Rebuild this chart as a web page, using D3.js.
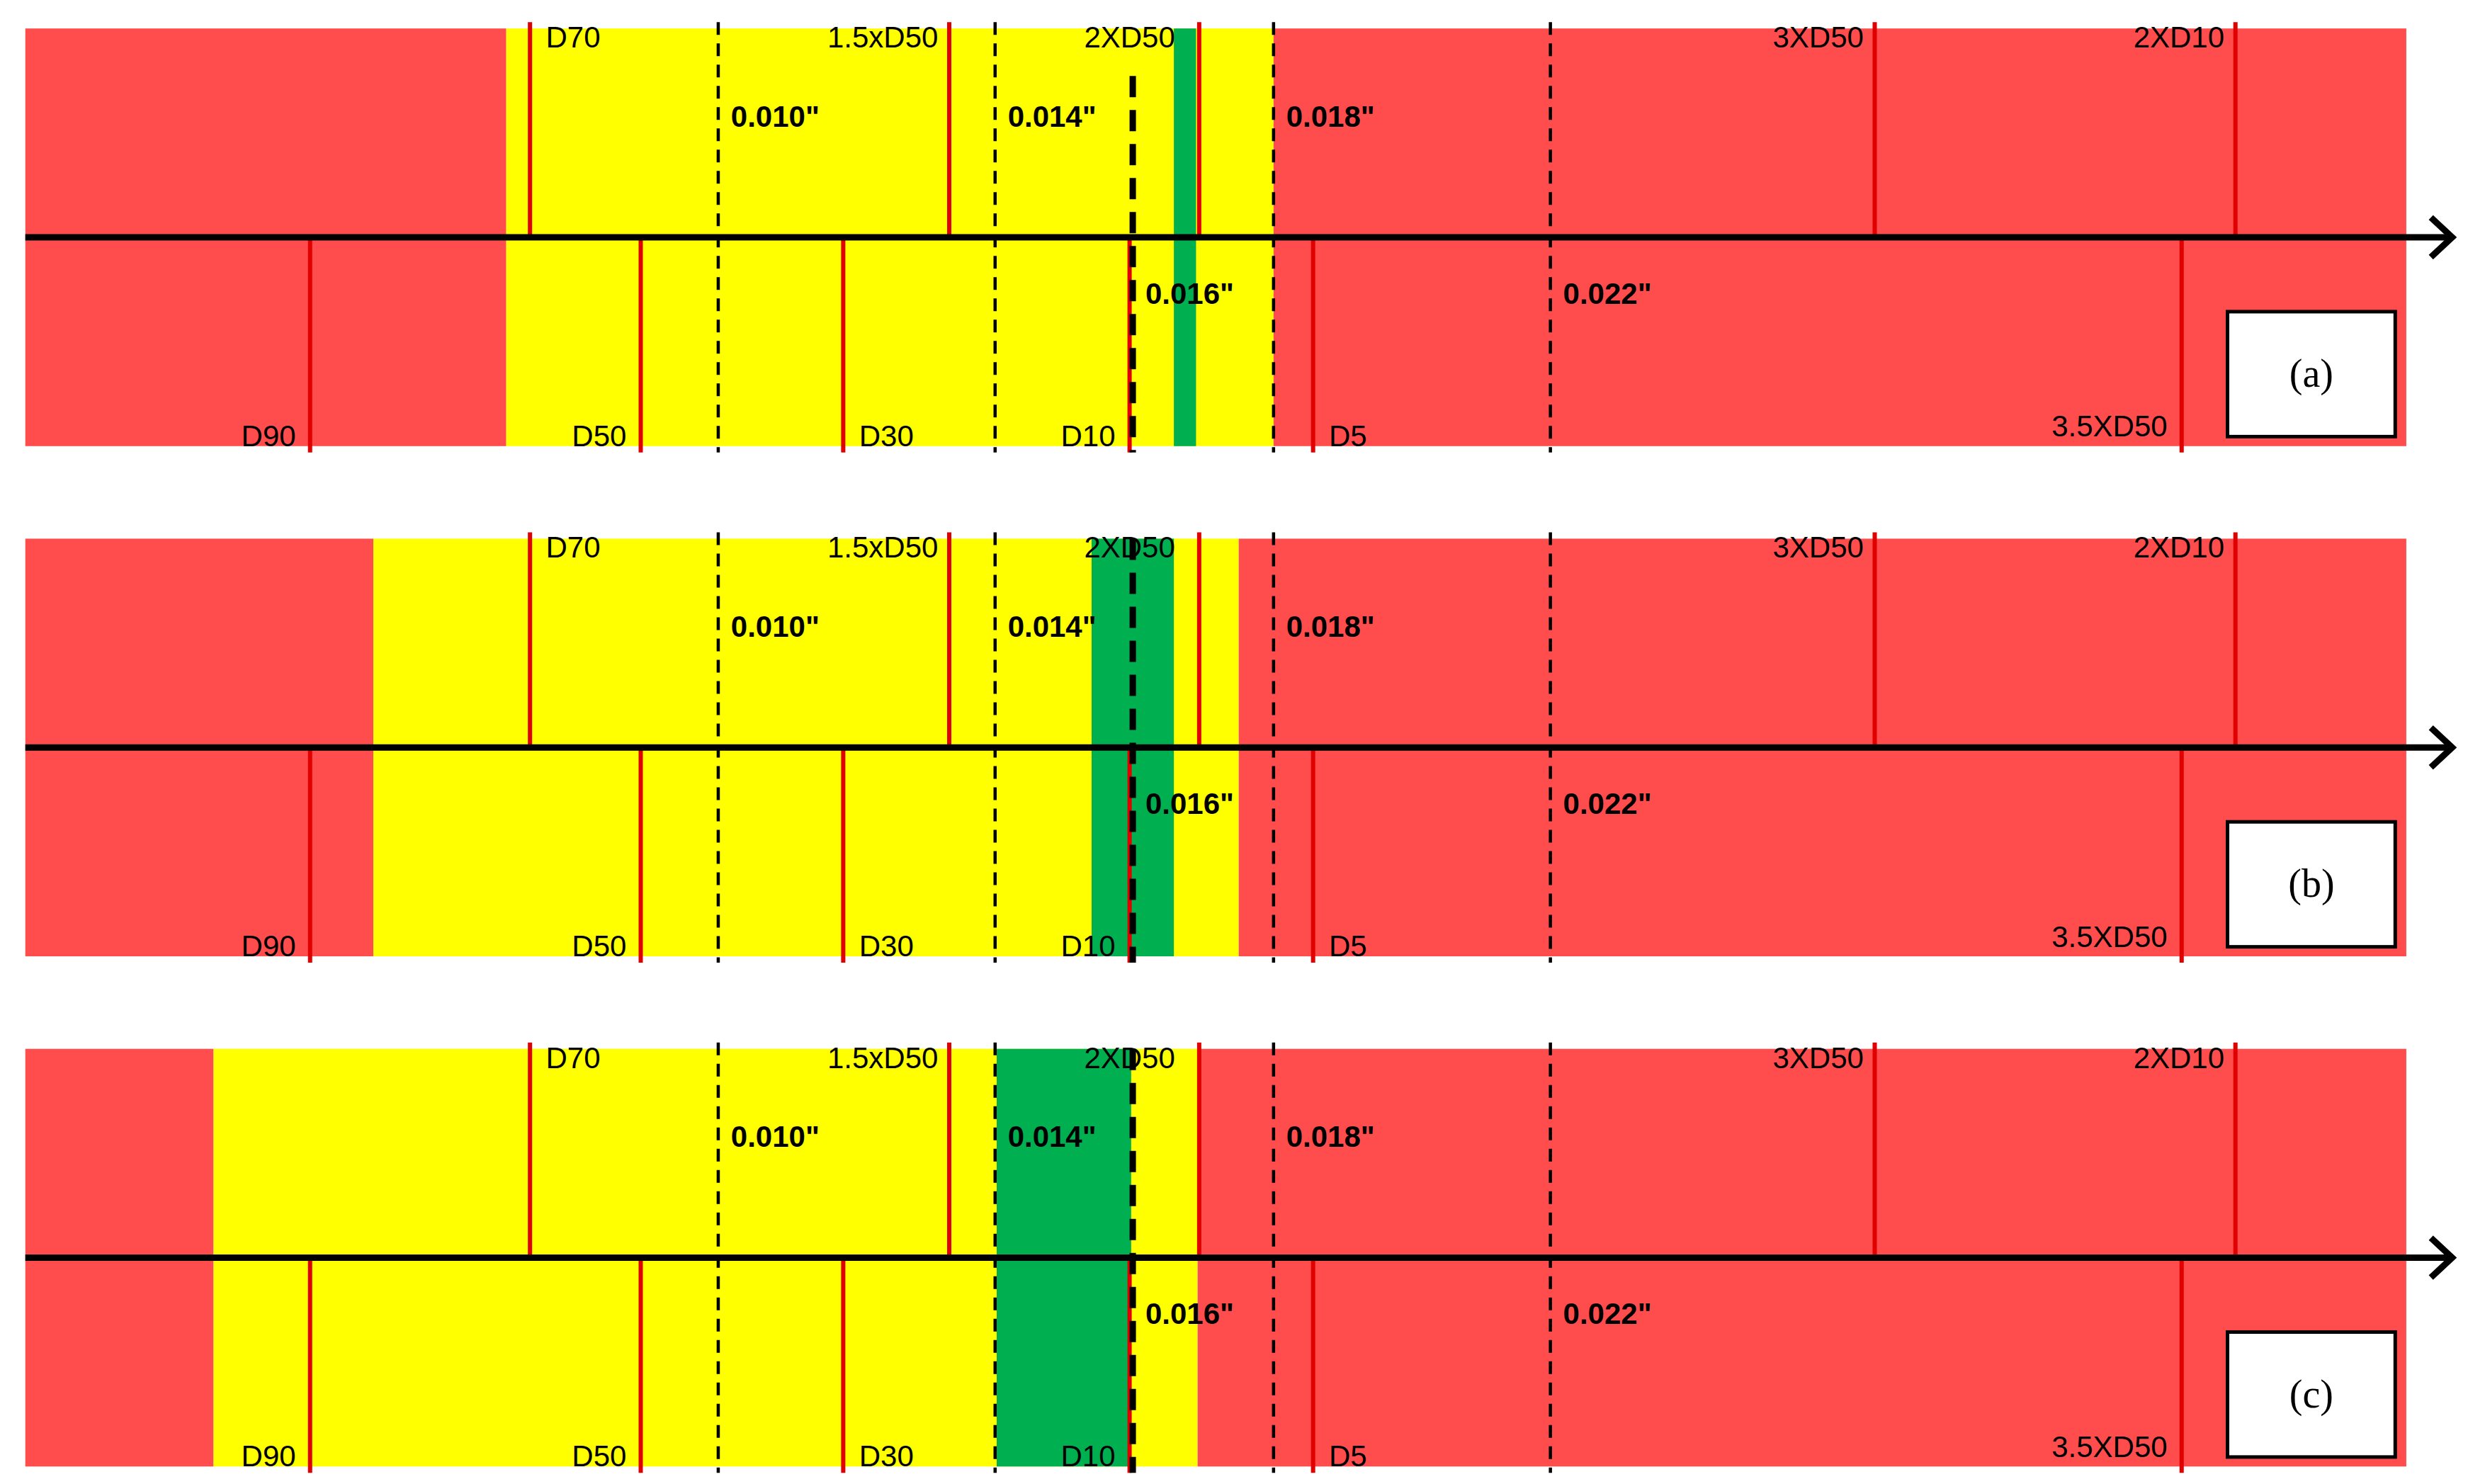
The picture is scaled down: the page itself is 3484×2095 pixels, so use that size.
<!DOCTYPE html><html><head><meta charset="utf-8"><script src="https://cdn.jsdelivr.net/npm/d3@7"></script>
<style>body{margin:0;background:#fff}</style></head><body><svg id="c" width="3484" height="2095"></svg>
<script>
const panels=["(a)","(b)","(c)"];
const yellowStart=[320,236,135];
const yellowEnd=[805,783,757];
const greenStart=[742,690,630];
const greenEnd=[756,742,715];
const topMarks=[["D70",335,"start"],["1.5xD50",600,"end"],["2XD50",758,"mid"],["3XD50",1185,"end"],["2XD10",1413,"end"]];
const botMarks=[["D90",196,"end"],["D50",405,"end"],["D30",533,"start"],["D10",714,"end"],["D5",830,"start"],["3.5XD50",1379,"end"]];
const sieves=[454,629,805,980];
const sieveLabels=[["0.010\"",454,"top"],["0.014\"",629,"top"],["0.018\"",805,"top"],["0.016\"",716,"bot"],["0.022\"",980,"bot"]];
const thickSieve=716;
const xMin=16,xMax=1521,arrowEnd=1550;

const k=3484/1560;
const x=d3.scaleLinear().domain([0,1560]).range([0,3484]);
const svg=d3.select("#c");
const RED="#ff4d4d",YEL="#ffff00",GRN="#00b050",LRED="#e00000";
panels.forEach((p,i)=>{
  const oy=(18+i*322.5)*k, h=264*k, ax=oy+132*k, top=oy-4*k, bot=oy+h+4*k;
  const g=svg.append("g");
  const segs=[[xMin,yellowStart[i],RED],[yellowStart[i],yellowEnd[i],YEL],[yellowEnd[i],xMax,RED],[greenStart[i],greenEnd[i],GRN]];
  segs.forEach(s=>g.append("rect").attr("x",x(s[0])).attr("y",oy).attr("width",x(s[1])-x(s[0])).attr("height",h).attr("fill",s[2]));
  sieves.forEach(v=>g.append("line").attr("x1",x(v)).attr("x2",x(v)).attr("y1",top).attr("y2",bot).attr("stroke","#000").attr("stroke-width",4.5).attr("stroke-dasharray","18,12"));
  topMarks.forEach(m=>g.append("line").attr("x1",x(m[1])).attr("x2",x(m[1])).attr("y1",top).attr("y2",ax).attr("stroke",LRED).attr("stroke-width",6));
  botMarks.forEach(m=>g.append("line").attr("x1",x(m[1])).attr("x2",x(m[1])).attr("y1",ax).attr("y2",bot).attr("stroke",LRED).attr("stroke-width",6));
  g.append("line").attr("x1",x(thickSieve)).attr("x2",x(thickSieve)).attr("y1",i==0?oy+30*k:oy).attr("y2",bot).attr("stroke","#000").attr("stroke-width",9).attr("stroke-dasharray","30,18");
  g.append("line").attr("x1",x(xMin)).attr("x2",x(arrowEnd)-6).attr("y1",ax).attr("y2",ax).attr("stroke","#000").attr("stroke-width",9);
  g.append("path").attr("d",`M${x(arrowEnd)-30},${ax-28}L${x(arrowEnd)},${ax}L${x(arrowEnd)-30},${ax+28}`).attr("fill","none").attr("stroke","#000").attr("stroke-width",9);
  const font='"Liberation Sans",Arial,sans-serif';
  topMarks.forEach(m=>{const a=m[2]=="start"?"start":m[2]=="end"?"end":"middle";
    const tx=m[2]=="start"?x(m[1]+10):m[2]=="end"?x(m[1]-7):x(m[1]-44);
    g.append("text").attr("x",tx).attr("y",oy+12*k).attr("text-anchor",a).attr("font-family",font).attr("font-size",42).attr("fill","#000").text(m[0]);});
  botMarks.forEach(m=>{const a=m[2]=="start"?"start":"end";
    const tx=m[2]=="start"?x(m[1]+10):x(m[1]-9);
    const ty=m[0]=="3.5XD50"?oy+258*k:oy+264*k;
    g.append("text").attr("x",tx).attr("y",ty).attr("text-anchor",a).attr("font-family",font).attr("font-size",42).attr("fill","#000").text(m[0]);});
  sieveLabels.forEach(s=>g.append("text").attr("x",x(s[1]+8)).attr("y",s[2]=="top"?oy+62*k:oy+174*k).attr("font-family",font).attr("font-weight","bold").attr("font-size",42).attr("fill","#000").text(s[0]));
  const bx=x(1408),by=oy+179*k,bw=x(1514)-x(1408),bh=79*k;
  g.append("rect").attr("x",bx).attr("y",by).attr("width",bw).attr("height",bh).attr("fill","#fff").attr("stroke","#000").attr("stroke-width",5);
  g.append("text").attr("x",bx+bw/2).attr("y",by+bh/2+18).attr("text-anchor","middle").attr("font-family",'"Liberation Serif","Times New Roman",serif').attr("font-size",56).text(p);
});
</script></body></html>
